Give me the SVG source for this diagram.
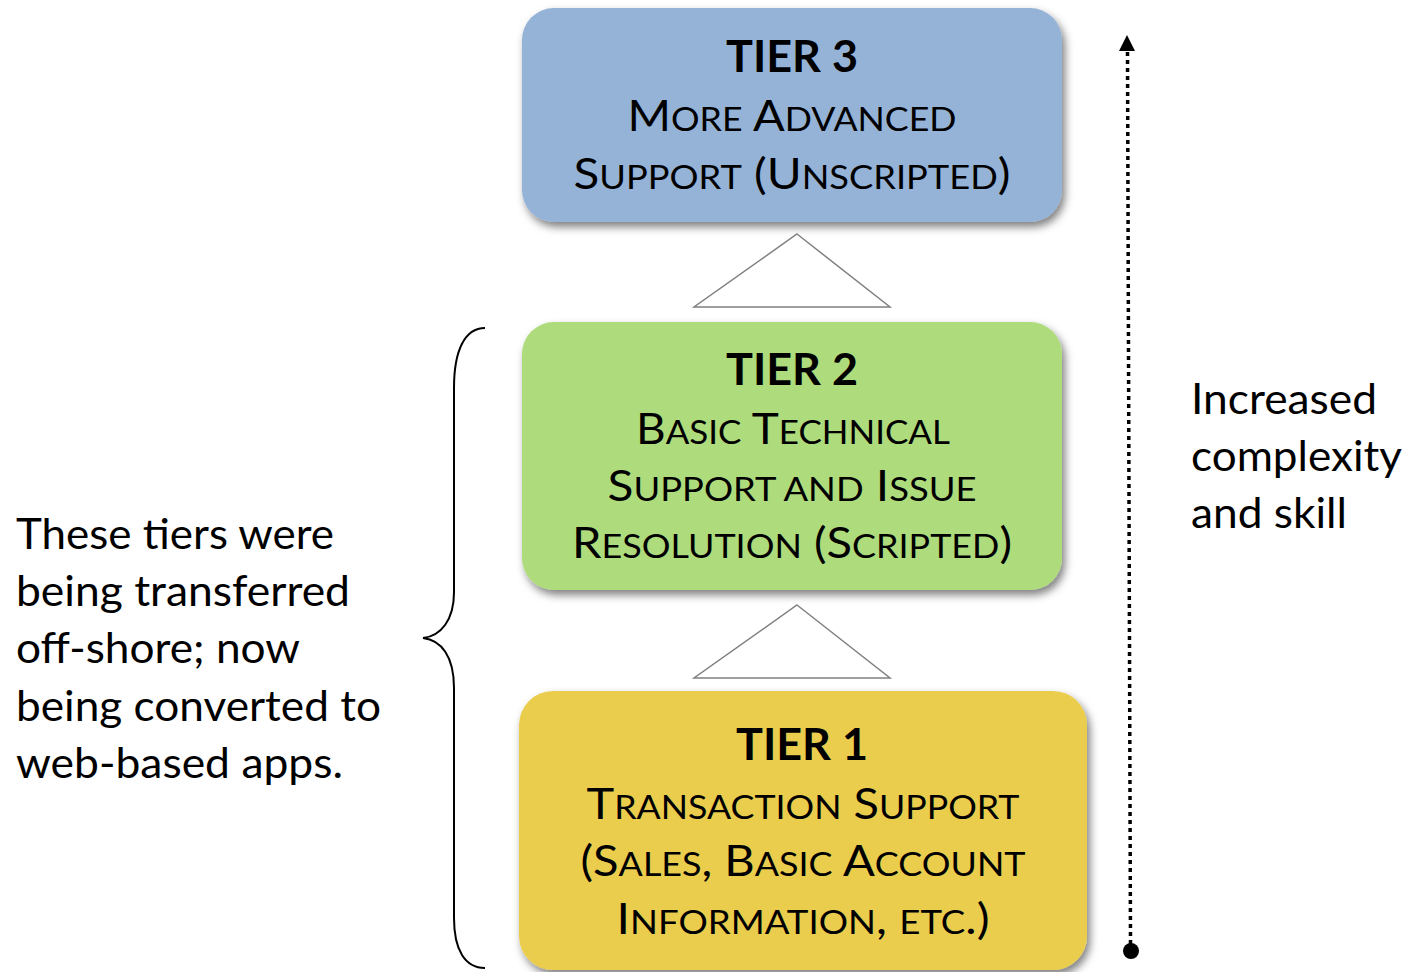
<svg xmlns="http://www.w3.org/2000/svg" width="1407" height="972" viewBox="0 0 1407 972">
<defs>
<filter id="sh" x="-10%" y="-10%" width="125%" height="130%">
<feDropShadow dx="3" dy="5" stdDeviation="4" flood-color="#000" flood-opacity="0.5"/>
</filter>
<style>
.bx{filter:url(#sh);}
.t{font-family:Lato,"Open Sans","Liberation Sans",sans-serif;fill:#000;text-anchor:middle;}
.h{font-weight:bold;font-size:44px;}
.sc{font-size:42px;}
.s{font-size:32px;}
.p{font-family:Lato,"Open Sans","Liberation Sans",sans-serif;font-size:42px;fill:#000;}
.tri{fill:#fff;stroke:#808080;stroke-width:1.5;}
</style>
</defs>
<rect width="1407" height="972" fill="#fff"/>

<g id="tier3">
<rect class="bx" x="522" y="8" width="540" height="214" rx="32" fill="#95B3D7"/>
<text class="t h" x="792" y="72" textLength="132" lengthAdjust="spacingAndGlyphs">TIER 3</text>
<text class="t sc" x="792" y="131" textLength="329" lengthAdjust="spacingAndGlyphs">M<tspan class="s">ORE</tspan> A<tspan class="s">DVANCED</tspan></text>
<text class="t sc" x="792" y="189" textLength="437" lengthAdjust="spacingAndGlyphs">S<tspan class="s">UPPORT</tspan> (U<tspan class="s">NSCRIPTED</tspan>)</text>
</g>

<g id="tier2">
<rect class="bx" x="522" y="322" width="540" height="268" rx="32" fill="#AEDB7C"/>
<text class="t h" x="792" y="385" textLength="132" lengthAdjust="spacingAndGlyphs">TIER 2</text>
<text class="t sc" x="793" y="444" textLength="314" lengthAdjust="spacingAndGlyphs">B<tspan class="s">ASIC</tspan> T<tspan class="s">ECHNICAL</tspan></text>
<text class="t sc" x="792" y="501" textLength="369" lengthAdjust="spacingAndGlyphs">S<tspan class="s">UPPORT AND</tspan> I<tspan class="s">SSUE</tspan></text>
<text class="t sc" x="792" y="558" textLength="440" lengthAdjust="spacingAndGlyphs">R<tspan class="s">ESOLUTION</tspan> (S<tspan class="s">CRIPTED</tspan>)</text>
</g>

<g id="tier1">
<rect class="bx" x="519" y="691" width="568" height="279" rx="34" fill="#EACD4E"/>
<text class="t h" x="802" y="760" textLength="132" lengthAdjust="spacingAndGlyphs">TIER 1</text>
<text class="t sc" x="803" y="819" textLength="433" lengthAdjust="spacingAndGlyphs">T<tspan class="s">RANSACTION</tspan> S<tspan class="s">UPPORT</tspan></text>
<text class="t sc" x="803" y="876" textLength="445" lengthAdjust="spacingAndGlyphs">(S<tspan class="s">ALES</tspan>, B<tspan class="s">ASIC</tspan> A<tspan class="s">CCOUNT</tspan></text>
<text class="t sc" x="803" y="934" textLength="373" lengthAdjust="spacingAndGlyphs">I<tspan class="s">NFORMATION</tspan>, <tspan class="s">ETC</tspan>.)</text>
</g>

<g id="connectors">
<polygon class="tri" points="797,234 890,307 694,307"/>
<polygon class="tri" points="797,605 890,678 694,678"/>
<line x1="1130.5" y1="944" x2="1127.5" y2="52" stroke="#000" stroke-width="3.5" stroke-dasharray="4 4"/>
<polygon points="1127,35 1135,51 1119,51" fill="#000"/>
<circle cx="1131" cy="951" r="8" fill="#000"/>
<path d="M485,328 C465,328 454,350 454,388 L454,592 C454,620 441,636 423,638 C441,640 454,656 454,688 L454,918 C454,950 465,968 485,968" fill="none" stroke="#000" stroke-width="2"/>
</g>

<g id="label-right">
<text class="p" x="1191" y="414" textLength="186" lengthAdjust="spacingAndGlyphs">Increased</text>
<text class="p" x="1191" y="471" textLength="211" lengthAdjust="spacingAndGlyphs">complexity</text>
<text class="p" x="1191" y="528" textLength="156" lengthAdjust="spacingAndGlyphs">and skill</text>
</g>

<g id="label-left">
<text class="p" x="16" y="549" textLength="318" lengthAdjust="spacingAndGlyphs">These tiers were</text>
<text class="p" x="16" y="606" textLength="334" lengthAdjust="spacingAndGlyphs">being transferred</text>
<text class="p" x="16" y="663" textLength="284" lengthAdjust="spacingAndGlyphs">off-shore; now</text>
<text class="p" x="16" y="721" textLength="365" lengthAdjust="spacingAndGlyphs">being converted to</text>
<text class="p" x="16" y="778" textLength="327" lengthAdjust="spacingAndGlyphs">web-based apps.</text>
</g>
</svg>
